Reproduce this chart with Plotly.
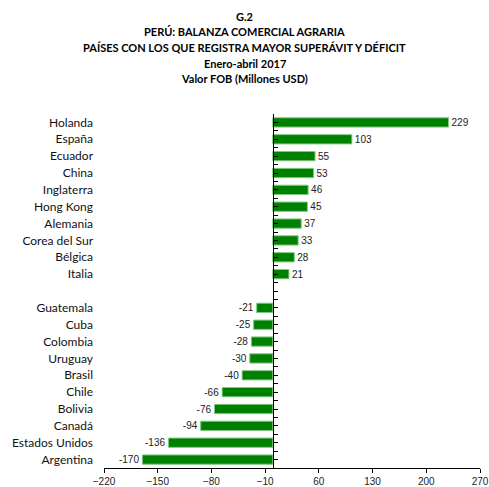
import plotly.graph_objects as go

# Agrarian trade balance by country, Jan-Apr 2017 (FOB, million USD)
countries = [
    "Holanda", "España", "Ecuador", "China", "Inglaterra", "Hong Kong",
    "Alemania", "Corea del Sur", "Bélgica", "Italia", " ",
    "Guatemala", "Cuba", "Colombia", "Uruguay", "Brasil", "Chile",
    "Bolivia", "Canadá", "Estados Unidos", "Argentina",
]
balance = [229, 103, 55, 53, 46, 45, 37, 33, 28, 21, None,
           -21, -25, -28, -30, -40, -66, -76, -94, -136, -170]

title_lines = [
    "G.2",
    "PERÚ: BALANZA COMERCIAL AGRARIA",
    "PAÍSES CON LOS QUE REGISTRA MAYOR SUPERÁVIT Y DÉFICIT",
    "Enero-abril 2017",
    "Valor FOB (Millones USD)",
]

X_MIN, X_MAX, X_STEP = -220, 270, 70
n = len(countries)

W, H = 489, 487
M = dict(l=104, r=9, t=114, b=19)
plot_w = W - M["l"] - M["r"]
plot_h = H - M["t"] - M["b"]

fig = go.Figure(
    go.Bar(
        x=balance,
        y=countries,
        orientation="h",
        marker=dict(color="#008000", line=dict(color="#7fc87f", width=1)),
        text=[("" if v is None else str(v)) for v in balance],
        textposition="outside",
        constraintext="none",
        textfont=dict(family="Liberation Sans, Arial", size=10, color="#222"),
        cliponaxis=False,
        hoverinfo="x+y",
    )
)

# second axis just to draw the vertical line at zero with half-category ticks
fig.add_trace(go.Scatter(x=[None], y=[None], yaxis="y2", showlegend=False))

fig.update_layout(
    width=W,
    height=H,
    margin=M,
    paper_bgcolor="white",
    plot_bgcolor="white",
    showlegend=False,
    bargap=0.45,
    xaxis=dict(
        range=[X_MIN, X_MAX],
        tick0=X_MIN,
        dtick=X_STEP,
        automargin=False,
        showgrid=False,
        zeroline=False,
        showline=True,
        linecolor="#000",
        linewidth=1,
        ticks="outside",
        ticklen=4,
        tickcolor="#000",
        ticklabeloverflow="allow",
        tickfont=dict(family="Liberation Sans, Arial", size=10, color="#222"),
    ),
    yaxis=dict(
        type="category",
        categoryorder="array",
        categoryarray=countries,
        range=[n - 0.5, -0.5],
        automargin=False,
        showgrid=False,
        zeroline=False,
        showline=False,
        ticks="",
        ticklabelstandoff=10,
        tickfont=dict(family="Lato, Carlito, sans-serif", size=12, color="#111"),
    ),
    yaxis2=dict(
        overlaying="y",
        anchor="free",
        position=(0 - X_MIN) / (X_MAX - X_MIN),
        range=[n - 0.5, -0.5],
        tick0=-0.5,
        dtick=0.5,
        automargin=False,
        showticklabels=False,
        showgrid=False,
        zeroline=False,
        showline=True,
        linecolor="#000",
        linewidth=1,
        ticks="inside",
        ticklen=4,
        tickcolor="#000",
    ),
)

# title lines: centred on the page, fixed pixel rows
title_x = (W / 2 - M["l"]) / plot_w
for i, line in enumerate(title_lines):
    row_px = 16 + i * 15.7
    fig.add_annotation(
        text=f"<b>{line}</b>",
        x=title_x,
        xref="paper",
        y=1 + (M["t"] - row_px) / plot_h,
        yref="paper",
        yanchor="middle",
        showarrow=False,
        font=dict(family="Lato, Carlito, sans-serif", size=11, color="#000"),
    )

# drop the default 8px body margin so the figure fills the window exactly
fig.write_html(
    "out.html",
    config={"displayModeBar": False},
    post_script="document.body.style.margin='0';document.body.style.overflow='hidden';",
)
